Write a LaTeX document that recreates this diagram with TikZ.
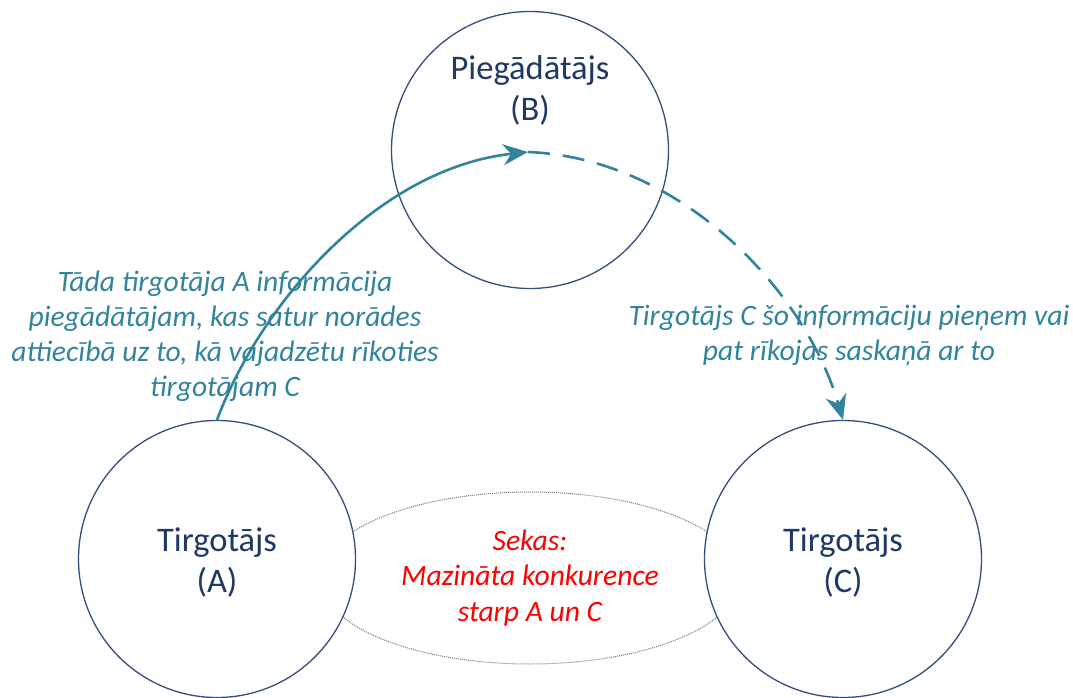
\documentclass[tikz,border=0pt]{standalone}
\usepackage{fontspec}
\setmainfont{Carlito}
\usetikzlibrary{arrows.meta,shapes.geometric}
\definecolor{ring}{RGB}{52,78,124}
\definecolor{navy}{RGB}{31,56,100}
\definecolor{teal}{RGB}{49,132,155}
\definecolor{dotgray}{RGB}{120,120,120}
\tikzset{
  party/.style={circle,draw=ring,line width=1.3pt,fill=white,minimum size=277pt,inner sep=0pt},
  partytext/.style={text=navy,font=\fontsize{34.5}{41}\selectfont,align=center},
  effect/.style={ellipse,draw=dotgray,line width=1pt,dash pattern=on 1pt off 1pt,
    minimum width=420pt,minimum height=172pt,inner sep=0pt,text=red,
    font=\fontsize{29.6}{35.5}\selectfont\itshape,align=center},
  note/.style={text=teal,font=\fontsize{29.6}{35}\selectfont\itshape,align=center},
  flow/.style={draw=teal,line width=2.6pt,-{Stealth[length=25pt,width=21pt,inset=8pt]}},
}
\begin{document}
\begin{tikzpicture}[x=1pt,y=-1pt]
\useasboundingbox (0,0) rectangle (1073,698);
\node[effect] (E) at (530,578) {Sekas:\\Mazināta konkurence\\starp A un C};
\node[party] (B) at (530,150) {};
\node[party] (A) at (217,559) {};
\node[party] (C) at (843,559) {};
\node[partytext] (Bt) at (530,90) {Piegādātājs\\(B)};
\node[partytext] (At) at (217,563) {Tirgotājs\\(A)};
\node[partytext] (Ct) at (843,563) {Tirgotājs\\(C)};
\node[note] (L) at (225,336) {Tāda tirgotāja A informācija\\piegādātājam, kas satur norādes\\attiecībā uz to, kā vajadzētu rīkoties\\tirgotājam C};
\node[note] (R) at (849,336) {Tirgotājs C šo informāciju pieņem vai\\pat rīkojas saskaņā ar to};
\coordinate (M) at (528,152);
\draw[flow] (A.north) .. controls (262,300) and (380,168) .. (M);
\draw[flow,dash pattern=on 22pt off 13pt] (M) .. controls (680,158) and (805,290) .. (C.north);
\end{tikzpicture}
\end{document}
